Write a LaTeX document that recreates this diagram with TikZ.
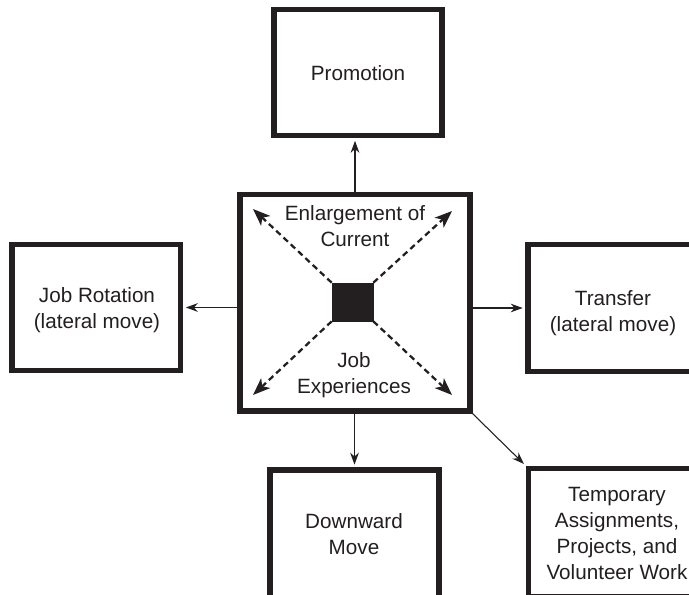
\documentclass[tikz,border=0pt]{standalone}
\usepackage{fontspec}
\setmainfont{Liberation Sans}
\usetikzlibrary{arrows.meta,fit}
\definecolor{ink}{RGB}{35,31,32}
\begin{document}
\begin{tikzpicture}[x=0.75pt,y=-0.75pt,
  box/.style={draw=ink,line width=4pt,inner sep=0pt,rectangle},
  lbl/.style={align=center,text=ink,font=\fontsize{15.5pt}{19.5pt}\selectfont,inner sep=0pt},
  conn/.style={draw=ink,line width=0.8pt,-{Stealth[length=9pt,width=6.5pt]},shorten >=2pt},
  dconn/.style={draw=ink,line width=1.7pt,dash pattern=on 4.5pt off 3pt,-{Stealth[length=13pt,width=10pt,inset=3.5pt]}}]
\useasboundingbox (0,0) rectangle (689,594);
\clip (0,0) rectangle (689,594);
\fill[white] (0,0) rectangle (689,594);
% boxes
\node[box,fit={(240,194.5) (470,411)}] (central) {};
\node[box,fill=ink,line width=0.5pt,fit={(332,283) (373,321)}] (sq) {};
\node[box,fit={(274,9.5) (442,135.5)}] (promo) {};
\node[box,fit={(12,244.5) (180.5,370.5)}] (rot) {};
\node[box,fit={(528,244.5) (760,371.5)}] (trans) {};
\node[box,fit={(270,470) (439,650)}] (down) {};
\node[box,fit={(528.5,468.5) (760,597)}] (temp) {};
% texts
\node[lbl] (tenl) at (355,226.5) {Enlargement of\\Current};
\node[lbl] (tjob) at (354,375.5) {Job\\Experiences};
\node[lbl] (tpromo) at (358,73) {Promotion};
\node[lbl] (trot) at (97,310) {Job Rotation\\(lateral move)};
\node[lbl] (ttrans) at (613,313.5) {Transfer\\(lateral move)};
\node[lbl] (tdown) at (354,534.5) {Downward\\Move};
\node[lbl] (ttemp) at (617,533.5) {Temporary\\Assignments,\\Projects, and\\Volunteer Work};
% free ends of dashed arrows
\coordinate (ul) at (253,209);
\coordinate (ur) at (452,211);
\coordinate (ll) at (253,395);
\coordinate (lr) at (452,395);
\draw[dconn] (sq.north west) -- (ul);
\draw[dconn] (sq.north east) -- (ur);
\draw[dconn] (sq.south west) -- (ll);
\draw[dconn] (sq.south east) -- (lr);
% connectors
\draw[conn] (central.north) -- (central.north |- promo.south);
\draw[conn] (central.west |- rot.east) -- (rot.east);
\draw[conn] (central.east |- trans.west) -- (trans.west);
\draw[conn] (central.south -| down.north) -- (down.north);
\draw[conn] (central.south east) -- (temp.north west);
\end{tikzpicture}
\end{document}
